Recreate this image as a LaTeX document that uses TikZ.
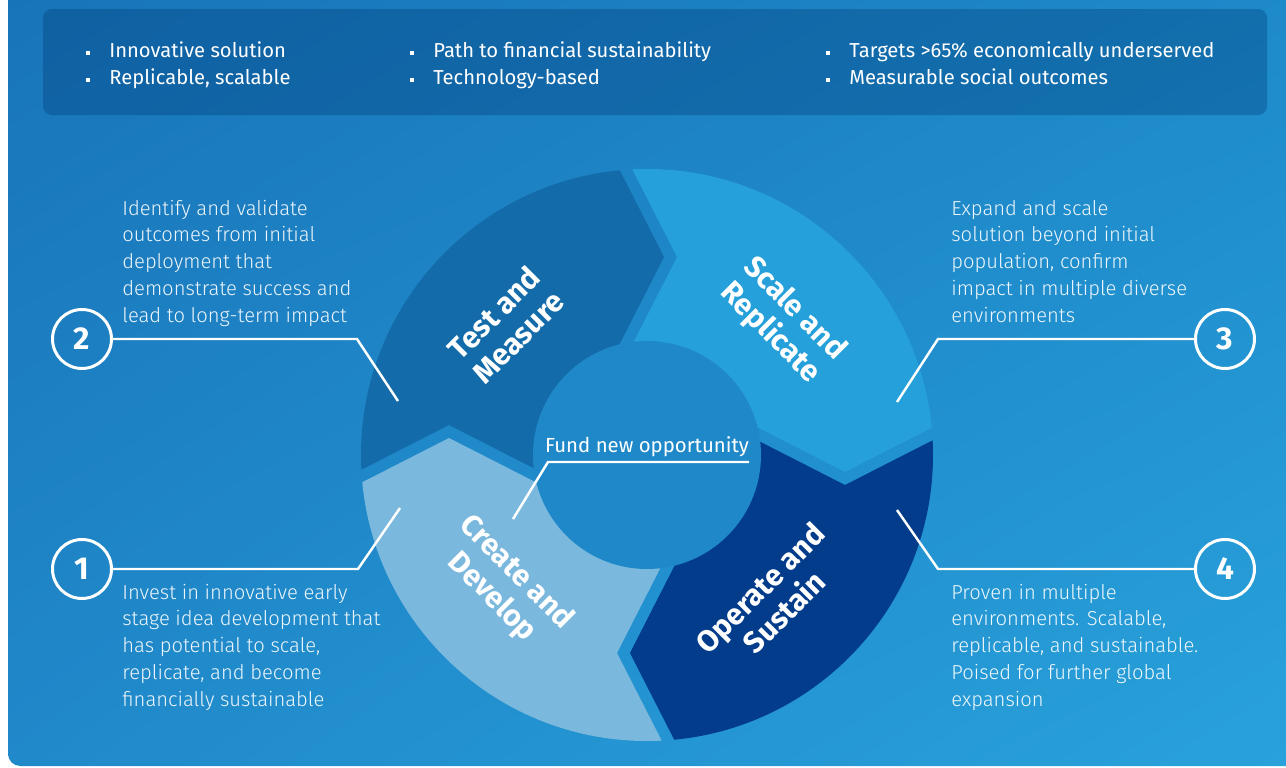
\documentclass[tikz,border=0pt]{standalone}
\usepackage{fontspec}
\usetikzlibrary{shadings}
\setmainfont{Fira Sans}
\newfontfamily\lightfont{Fira Sans Light}

\definecolor{bgtl}{HTML}{1873B8}
\definecolor{bgtr}{HTML}{1D89C9}
\definecolor{bgbl}{HTML}{2089CA}
\definecolor{bgbr}{HTML}{29A3DC}
\definecolor{bannerc}{RGB}{0,60,120}
\definecolor{testc}{HTML}{136CA9}
\definecolor{scalec}{HTML}{25A0DA}
\definecolor{operc}{HTML}{033C8B}
\definecolor{createc}{HTML}{7BB8DD}
\definecolor{hubc}{HTML}{1F88C9}

\begin{document}
\begin{tikzpicture}[x=0.02cm,y=-0.02cm]
    \tikzset{
        bannertext/.style={anchor=base west,text=white,inner sep=0pt,
            font=\fontsize{11.5}{14}\selectfont},
        dot/.style={fill=white,minimum size=2pt,inner sep=0pt},
        desc/.style={anchor=base west,align=left,text=white,text opacity=0.92,
            inner sep=0pt,font=\lightfont\fontsize{11.5}{15.2}\selectfont},
        phase/.style={text=white,align=center,inner sep=0pt,
            font=\bfseries\fontsize{17}{19.5}\selectfont},
        num/.style={circle,draw=white,line width=1.7pt,minimum size=1.18cm,
            inner sep=0pt,text=white,font=\bfseries\fontsize{18}{18}\selectfont},
        fundtext/.style={anchor=base,text=white,inner sep=0pt,
            font=\fontsize{11.6}{14}\selectfont},
        leader/.style={white,line width=1.4pt}
    }
    \useasboundingbox (0,0) rectangle (1286,768);
    \fill[white] (0,0) rectangle (1286,768);

    % background panel
    \shade[upper left=bgtl,upper right=bgtr,lower left=bgbl,lower right=bgbr,
        rounded corners=7pt]
        (8,-40) -- (8,766) -- (1330,766) -- (1330,-40) -- cycle;

    % criteria banner
    \fill[bannerc,fill opacity=0.35,rounded corners=5pt] (43,9) rectangle (1267,115);
    \node[bannertext] (c1) at (109,57) {Innovative solution};
    \node[bannertext] (c2) at (109,84) {Replicable, scalable};
    \node[bannertext] (c3) at (433,57) {Path to financial sustainability};
    \node[bannertext] (c4) at (433,84) {Technology-based};
    \node[bannertext] (c5) at (849,57) {Targets >65\% economically underserved};
    \node[bannertext] (c6) at (849,84) {Measurable social outcomes};
    \node[dot] (b1) at (88,53) {};
    \node[dot] (b2) at (88,80) {};
    \node[dot] (b3) at (412,53) {};
    \node[dot] (b4) at (412,80) {};
    \node[dot] (b5) at (828,53) {};
    \node[dot] (b6) at (828,80) {};

    % cycle ring
    \begin{scope}[shift={(647,455)},y=0.02cm]
        \foreach \a/\c in {0/testc,-90/scalec,-180/operc,-270/createc}{
            \begin{scope}[rotate=\a]
                \clip (0,0) circle (286);
                \fill[\c] (-84,0) -- (17,198) -- (-86,400) -- (-400,400)
                    -- (-400,-73) -- (-198,30) -- (0,-71) -- cycle;
            \end{scope}
        }
        \fill[hubc] (0,0) circle (114);
    \end{scope}

    \node[phase,rotate=45] (test) at (506,325) {Test and\\Measure};
    \node[phase,rotate=-45] (scale) at (782,321) {Scale and\\Replicate};
    \node[phase,rotate=45] (operate) at (772,600) {Operate and\\Sustain};
    \node[phase,rotate=-45] (create) at (504,585) {Create and\\Develop};

    \node[fundtext] (fund) at (647,452) {Fund new opportunity};
    \coordinate (f1) at (749,462);
    \coordinate (f2) at (548,462);
    \coordinate (f3) at (513,519);
    \draw[leader] (f1) -- (f2) -- (f3);

    % numbered steps
    \node[num] (n1) at (82,569) {1};
    \node[num] (n2) at (82,339) {2};
    \node[num] (n3) at (1225,339) {3};
    \node[num] (n4) at (1225,569) {4};

    \coordinate (k1) at (358,569);
    \coordinate (e1) at (400,508);
    \coordinate (k2) at (357,339);
    \coordinate (e2) at (398,401);
    \coordinate (k3) at (938,339);
    \coordinate (e3) at (897,402);
    \coordinate (k4) at (938,569);
    \coordinate (e4) at (897,510);
    \draw[leader] (n1.east) -- (k1) -- (e1);
    \draw[leader] (n2.east) -- (k2) -- (e2);
    \draw[leader] (n3.west) -- (k3) -- (e3);
    \draw[leader] (n4.west) -- (k4) -- (e4);

    % descriptions, placed by their last baseline
    \node[desc] (d2) at (122,322) {Identify and validate\\outcomes from initial\\
        deployment that\\demonstrate success and\\lead to long-term impact};
    \node[desc] (d3) at (951,322) {Expand and scale\\solution beyond initial\\
        population, confirm\\impact in multiple diverse\\environments};
    \node[desc] (d1) at (122,706) {Invest in innovative early\\
        stage idea development that\\has potential to scale,\\
        replicate, and become\\financially sustainable};
    \node[desc] (d4) at (951,706) {Proven in multiple\\environments. Scalable,\\
        replicable, and sustainable.\\Poised for further global\\expansion};
\end{tikzpicture}
\end{document}
